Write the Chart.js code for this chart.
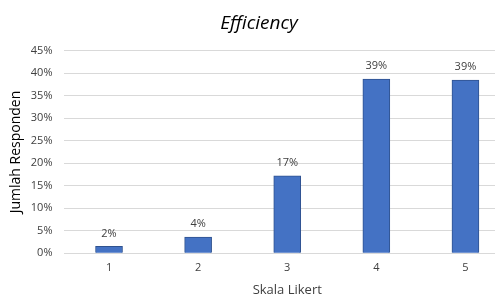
<!DOCTYPE html>
<html>
<head>
<meta charset="utf-8">
<script src="https://cdn.jsdelivr.net/npm/chart.js@4"></script>
<style>
html,body{margin:0;padding:0;background:#fff;overflow:hidden;width:495px;height:298px;}
canvas{display:block;}
</style>
</head>
<body>
<canvas id="c" width="510" height="298"></canvas>
<script>
const categories = ['1', '2', '3', '4', '5'];
const values = [1.5, 3.6, 17.2, 38.7, 38.5];
const valueLabels = ['2%', '4%', '17%', '39%', '39%'];
const yTicks = [0, 5, 10, 15, 20, 25, 30, 35, 40, 45];

const FONT = "'Open Sans', 'Liberation Sans', sans-serif";

const dataLabels = {
  id: 'dataLabels',
  afterDatasetsDraw(chart) {
    const ctx = chart.ctx;
    const meta = chart.getDatasetMeta(0);
    ctx.save();
    ctx.font = "11px " + FONT;
    ctx.fillStyle = '#404040';
    ctx.textAlign = 'center';
    ctx.textBaseline = 'middle';
    meta.data.forEach((bar, i) => {
      ctx.fillText(valueLabels[i], bar.x, bar.y - 13);
    });
    ctx.restore();
  }
};

new Chart(document.getElementById('c'), {
  type: 'bar',
  data: {
    labels: categories,
    datasets: [{
      data: values,
      backgroundColor: '#4472C4',
      borderColor: '#2F528F',
      borderWidth: 1,
      barThickness: 27
    }]
  },
  options: {
    responsive: false,
    animation: false,
    layout: { padding: { top: 12, left: 8, right: 0, bottom: 0 } },
    plugins: {
      legend: { display: false },
      tooltip: { enabled: false },
      title: {
        display: true,
        text: 'Efficiency',
        color: '#000',
        font: { family: FONT, size: 19, style: 'italic', weight: 'normal' },
        padding: { top: 0, bottom: 16 }
      }
    },
    scales: {
      x: {
        grid: { display: false, drawTicks: false },
        border: { display: true, color: '#D9D9D9' },
        ticks: { color: '#404040', font: { family: FONT, size: 11 }, padding: 8 },
        title: { display: true, text: 'Skala Likert', color: '#404040', font: { family: FONT, size: 13 }, padding: { top: 0, bottom: 0 } }
      },
      y: {
        min: 0,
        max: 45,
        afterBuildTicks(axis) { axis.ticks = yTicks.map(v => ({ value: v })); },
        grid: { color: '#D9D9D9', drawTicks: false },
        border: { display: false },
        ticks: { color: '#404040', font: { family: FONT, size: 11 }, padding: 12, callback: v => v + '%' },
        title: { display: true, text: 'Jumlah Responden', color: '#000', font: { family: FONT, size: 14 }, padding: { top: 0, bottom: -6 } }
      }
    }
  },
  plugins: [dataLabels]
});
</script>
</body>
</html>
